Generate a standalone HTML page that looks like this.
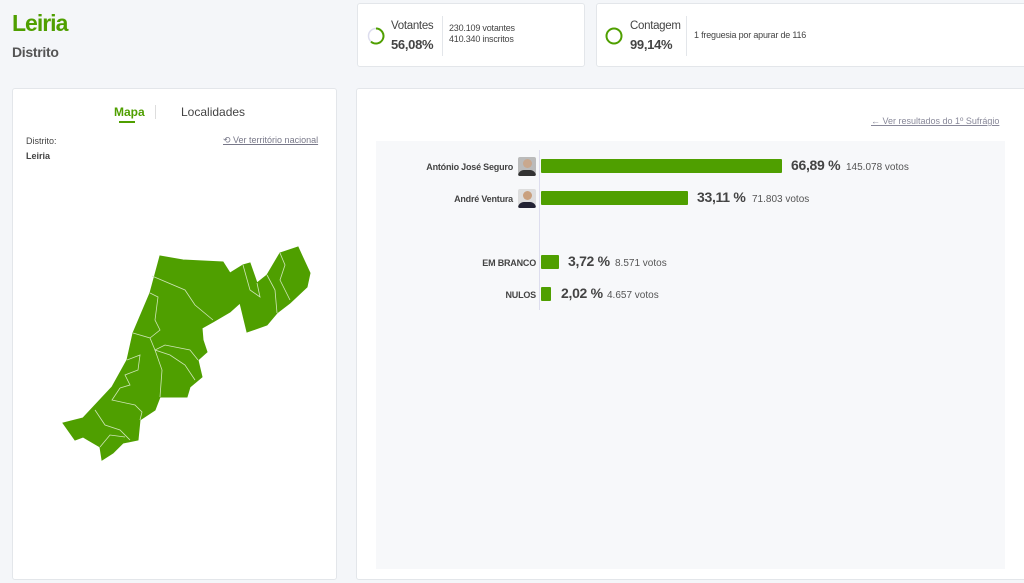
<!DOCTYPE html>
<html><head><meta charset="utf-8"><style>
*{margin:0;padding:0;box-sizing:border-box}
body{width:1024px;height:583px;background:#f4f6f9;font-family:"Liberation Sans",sans-serif;position:relative;overflow:hidden;color:#333}
.abs{position:absolute}
.card{position:absolute;background:#fff;border:1px solid #e3e6ea;border-radius:3px}
</style></head><body>
<div class="abs" style="left:12px;top:10px;font-size:23px;font-weight:bold;color:#4f9f00;letter-spacing:-1px">Leiria</div>
<div class="abs" style="left:12px;top:44px;font-size:14px;font-weight:bold;color:#555;letter-spacing:-0.3px">Distrito</div>

<div class="card" style="left:357px;top:3px;width:228px;height:64px">
 <svg class="abs" style="left:8px;top:22px" width="20" height="20"><circle cx="10" cy="10" r="7.5" fill="none" stroke="#dde" stroke-width="1.5"/><path d="M10 2.5 A7.5 7.5 0 1 1 5 15.6" fill="none" stroke="#4f9f00" stroke-width="2"/></svg>
 <div class="abs" style="left:33px;top:16px;font-size:11.5px;color:#444;letter-spacing:-0.3px">Votantes</div>
 <div class="abs" style="left:33px;top:33px;font-size:13px;font-weight:bold;color:#444;letter-spacing:-0.3px">56,08%</div>
 <div class="abs" style="left:84px;top:12px;width:1px;height:40px;background:#e3e6ea"></div>
 <div class="abs" style="left:91px;top:19px;font-size:9px;color:#444;line-height:11px;letter-spacing:-0.2px">230.109 votantes<br>410.340 inscritos</div>
</div>
<div class="card" style="left:596px;top:3px;width:432px;height:64px">
 <svg class="abs" style="left:7px;top:22px" width="20" height="20"><circle cx="10" cy="10" r="7.5" fill="none" stroke="#4f9f00" stroke-width="2"/></svg>
 <div class="abs" style="left:33px;top:16px;font-size:11.5px;color:#444;letter-spacing:-0.3px">Contagem</div>
 <div class="abs" style="left:33px;top:33px;font-size:13px;font-weight:bold;color:#444;letter-spacing:-0.3px">99,14%</div>
 <div class="abs" style="left:89px;top:12px;width:1px;height:40px;background:#e3e6ea"></div>
 <div class="abs" style="left:97px;top:26px;font-size:9px;color:#444;letter-spacing:-0.2px">1 freguesia por apurar de 116</div>
</div>

<div class="card" style="left:12px;top:88px;width:325px;height:492px">
 <div class="abs" style="left:101px;top:16px;font-size:12px;font-weight:bold;color:#4f9f00">Mapa</div>
 <div class="abs" style="left:106px;top:32px;width:16px;height:2px;background:#4f9f00"></div>
 <div class="abs" style="left:142px;top:16px;width:1px;height:14px;background:#ddd"></div>
 <div class="abs" style="left:168px;top:16px;font-size:12px;color:#444">Localidades</div>
 <div class="abs" style="left:13px;top:47px;font-size:9px;color:#444">Distrito:</div>
 <div class="abs" style="left:13px;top:62px;font-size:9px;font-weight:bold;color:#444">Leiria</div>
 <div class="abs" style="left:210px;top:46px;font-size:9px;color:#778;text-decoration:underline">⟲ Ver território nacional</div>
</div>
<svg class="abs" style="left:0;top:0" width="340" height="583"><polygon fill="#4f9f00" stroke="#4f9f00" points="160,256 183,260 223,262 230,273 243,265 250,263 257,283 267,275 280,253 298,247 303,258 310,273 307,287 290,303 277,313 267,325 247,332 240,303 230,312 213,322 202,328 203,340 207,352 198,360 202,377 190,387 187,397 160,397 155,410 140,420 138,440 123,443 113,453 102,460 100,447 88,440 83,437 75,440 63,423 83,418 112,387 127,360 133,333 150,293"/>
<g fill="none" stroke="#cfe6b8" stroke-width="0.8"><path d="M152,276 L185,290 L195,305 L213,320"/><path d="M150,293 L158,297 L155,320 L160,330 L150,338"/><path d="M133,333 L150,338 L155,350 L170,355 L185,365 L195,380"/><path d="M155,350 L165,345 L190,350 L198,360"/><path d="M127,360 L140,355 L138,370 L125,375 L130,385 L120,388"/><path d="M120,388 L112,400 L135,405 L142,412 L140,420"/><path d="M95,410 L105,425 L120,430 L130,440"/><path d="M100,447 L110,435 L125,437"/><path d="M243,265 L250,290 L260,297 L257,283"/><path d="M280,253 L285,265 L280,280 L290,300"/><path d="M267,275 L275,290 L277,313"/><path d="M160,397 L162,370 L155,350"/></g></svg>

<div class="card" style="left:356px;top:88px;width:672px;height:492px">
 <div class="abs" style="left:514px;top:27px;font-size:9px;color:#889;text-decoration:underline">← Ver resultados do 1º Sufrágio</div>
 <div class="abs" style="left:19px;top:52px;width:629px;height:428px;background:#f7f8fa"></div>
</div>
<div class="abs" style="left:539px;top:150px;width:1px;height:160px;background:#dde"></div>
<div class="abs" style="left:420px;top:162px;width:93px;text-align:right;font-size:9px;font-weight:bold;color:#444;letter-spacing:-0.2px">António José Seguro</div>
<div class="abs" style="left:518px;top:157px;width:18px;height:19px;background:#bbb;border-radius:2px;overflow:hidden"><div style="margin:2px auto;width:9px;height:9px;border-radius:50%;background:#c9a88e"></div><div style="width:18px;height:8px;background:#333;border-radius:6px 6px 0 0"></div></div>
<div class="abs" style="left:541px;top:159px;width:241px;height:14px;background:#4f9f00;border-radius:1px"></div>
<div class="abs" style="left:791px;top:157px;font-size:14px;font-weight:bold;color:#444;letter-spacing:-0.3px">66,89 %</div>
<div class="abs" style="left:846px;top:162px;font-size:10px;color:#555">145.078 votos</div>
<div class="abs" style="left:420px;top:194px;width:93px;text-align:right;font-size:9px;font-weight:bold;color:#444;letter-spacing:-0.2px">André Ventura</div>
<div class="abs" style="left:518px;top:189px;width:18px;height:19px;background:#ddd;border-radius:2px;overflow:hidden"><div style="margin:2px auto;width:9px;height:9px;border-radius:50%;background:#c9a07e"></div><div style="width:18px;height:8px;background:#223;border-radius:6px 6px 0 0"></div></div>
<div class="abs" style="left:541px;top:191px;width:147px;height:14px;background:#4f9f00;border-radius:1px"></div>
<div class="abs" style="left:697px;top:189px;font-size:14px;font-weight:bold;color:#444;letter-spacing:-0.3px">33,11 %</div>
<div class="abs" style="left:752px;top:194px;font-size:10px;color:#555">71.803 votos</div>
<div class="abs" style="left:440px;top:258px;width:96px;text-align:right;font-size:9px;font-weight:bold;color:#444;letter-spacing:-0.2px">EM BRANCO</div>
<div class="abs" style="left:541px;top:255px;width:18px;height:14px;background:#4f9f00;border-radius:1px"></div>
<div class="abs" style="left:568px;top:253px;font-size:14px;font-weight:bold;color:#444;letter-spacing:-0.3px">3,72 %</div>
<div class="abs" style="left:615px;top:258px;font-size:10px;color:#555">8.571 votos</div>
<div class="abs" style="left:440px;top:290px;width:96px;text-align:right;font-size:9px;font-weight:bold;color:#444;letter-spacing:-0.2px">NULOS</div>
<div class="abs" style="left:541px;top:287px;width:10px;height:14px;background:#4f9f00;border-radius:1px"></div>
<div class="abs" style="left:561px;top:285px;font-size:14px;font-weight:bold;color:#444;letter-spacing:-0.3px">2,02 %</div>
<div class="abs" style="left:607px;top:290px;font-size:10px;color:#555">4.657 votos</div>
</body></html>
